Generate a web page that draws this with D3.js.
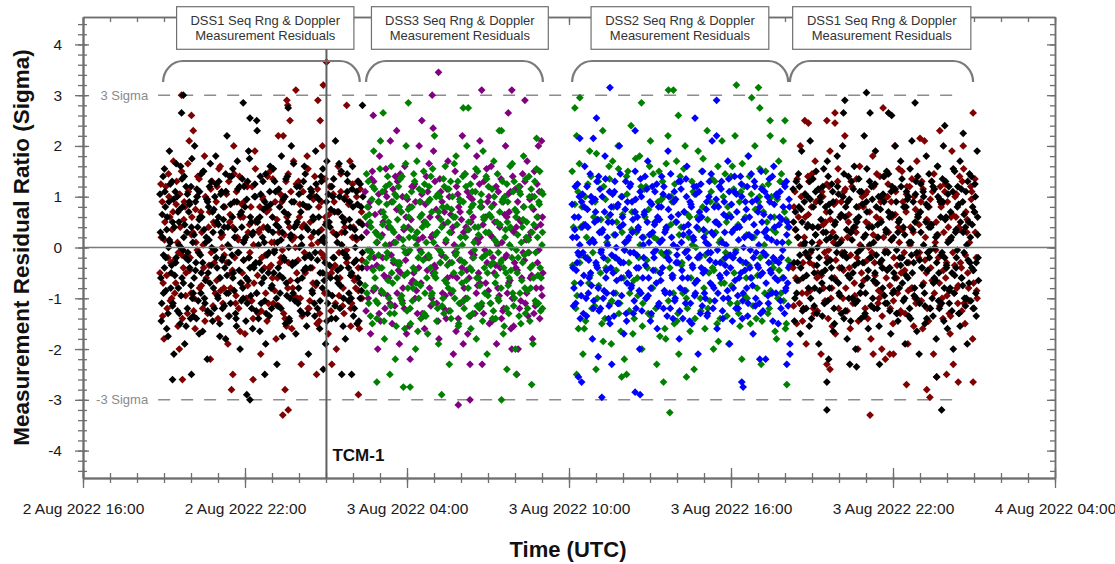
<!DOCTYPE html>
<html>
<head>
<meta charset="utf-8">
<script src="https://cdn.jsdelivr.net/npm/d3@7"></script>
<style>
body{margin:0;background:#fff;}
svg{display:block;font-family:"Liberation Sans",Arial,sans-serif;}
</style>
</head>
<body>
<svg id="chart" width="1115" height="564"></svg>
<script>
// each point: [minutes after 2 Aug 2022 16:00 UTC, residual ratio in sigma]
const dss1PassARed = [[171,-0.5],[176,0.9],[180,-1.8],[184,1.2],[189,-0.2],[193,0.6],[197,-1.0],[201,1.7],[206,-0.7],[210,0.1],
[214,-2.0],[219,1.5],[223,-0.4],[227,0.8],[232,-1.3],[236,2.1],[240,-0.9],[244,0.3],[249,-1.6],[253,1.0],
[257,-0.1],[262,0.7],[266,-1.2],[270,1.8],[274,-0.6],[279,0.4],[283,-2.2],[287,1.3],[292,-0.3],[296,0.9],
[300,-1.4],[305,1.6],[309,0.0],[313,-0.8],[317,1.1],[322,-1.9],[326,0.5],[330,-0.5],[335,2.0],[339,-1.1],
[343,0.2],[348,1.4],[352,-0.7],[356,0.6],[360,-1.7],[365,1.2],[369,-0.2],[373,0.8],[378,-1.4],[382,1.9],
[386,-0.9],[391,0.3],[395,-2.1],[399,1.0],[403,-0.4],[408,0.7],[412,-1.1],[416,1.5],[421,-0.6],[425,0.1],
[429,-1.8],[434,2.2],[438,-0.3],[442,0.9],[446,-1.3],[451,1.3],[455,-0.8],[459,0.4],[464,-1.6],[468,1.7],
[472,0.0],[477,-1.0],[481,0.6],[485,-2.3],[489,1.1],[494,-0.5],[498,1.8],[502,-1.2],[507,0.2],[511,-0.7],
[515,1.4],[520,-1.5],[524,0.8],[528,-0.1],[532,2.0],[537,-0.9],[541,0.5],[545,-1.7],[550,1.2],[554,-0.4],
[558,0.9],[563,-2.0],[567,1.6],[571,-0.6],[575,0.3],[580,-1.3],[584,1.0],[588,-0.2],[593,1.7],[597,-1.1],
[601,0.4],[606,-0.8],[610,1.3],[614,-1.6],[619,0.7],
[174,0.2],[178,-0.7],[182,0.5],[187,-1.2],[191,1.0],[195,-0.3],[200,0.7],[204,-0.9],[208,1.3],[212,-0.1],
[216,0.4],[221,-1.4],[225,0.9],[229,-0.5],[234,1.1],[238,-0.2],[242,0.6],[247,-1.0],[251,0.1],[255,1.4],
[259,-0.8],[264,0.3],[268,-0.4],[272,1.0],[277,-1.3],[281,0.7],[285,-0.1],[290,0.5],[294,-0.9],[298,1.2],
[303,-0.6],[307,0.2],[311,-1.1],[315,0.8],[320,-0.3],[324,1.3],[328,-0.8],[333,0.4],[337,-0.2],[341,1.1],
[346,-1.2],[350,0.6],[354,-0.5],[358,0.9],[363,-1.0],[367,0.3],[371,-0.1],[376,1.2],[380,-0.7],[384,0.5],
[389,-1.3],[393,0.8],[397,-0.2],[401,0.4],[406,-0.9],[410,1.4],[414,-0.4],[419,0.1],[423,-1.1],[427,0.9],
[432,-0.6],[436,0.3],[440,-0.2],[444,1.0],[449,-1.4],[453,0.6],[457,-0.3],[462,1.1],[466,-0.8],[470,0.2],
[475,-0.5],[479,1.3],[483,-1.0],[487,0.4],[492,-0.1],[496,0.8],[500,-1.2],[505,0.5],[509,-0.4],[513,1.0],
[518,-0.7],[522,0.1],[526,-1.3],[530,0.9],[535,-0.2],[539,0.6],[543,-0.9],[548,1.2],[552,-0.5],[556,0.3],
[561,-1.1],[565,0.7],[569,-0.1],[573,1.1],[578,-0.8],[582,0.4],[586,-0.3],[591,0.9],[595,-1.2],[599,0.2],
[604,-0.6],[608,1.0],[612,-0.4],[616,0.5],[620,-1.0],
[173,1.25],[177,-1.35],[181,0.15],[186,-0.55],[190,1.45],[194,-1.05],[198,0.35],[203,-0.25],[207,0.85],[211,-1.55],
[215,1.05],[220,-0.15],[224,0.55],[228,-0.95],[233,1.65],[237,-0.45],[241,0.25],[246,-1.25],[250,0.75],[254,-0.05],
[258,1.35],[263,-0.75],[267,0.05],[271,-1.45],[276,0.95],[280,-0.35],[284,1.15],[289,-1.15],[293,0.45],[297,-0.65],
[302,1.55],[306,-0.85],[310,0.25],[314,-0.15],[319,1.05],[323,-1.35],[327,0.65],[332,-0.45],[336,1.45],[340,-0.95],
[345,0.15],[349,-1.65],[353,0.85],[357,-0.25],[362,1.25],[366,-0.75],[370,0.45],[375,-1.05],[379,0.05],[383,1.55],
[388,-0.55],[392,0.35],[396,-1.25],[400,0.95],[405,-0.15],[409,-1.45],[413,0.75],[418,-0.35],[422,1.35],[426,-0.85],
[431,0.55],[435,-1.15],[439,1.05],[443,-0.05],[448,0.25],[452,-1.55],[456,1.45],[461,-0.65],[465,0.15],[469,-0.95],
[474,1.25],[478,-0.25],[482,0.85],[487,-1.35],[491,0.45],[495,-0.45],[500,1.55],[504,-1.05],[508,0.05],[512,0.95],
[517,-0.75],[521,1.15],[525,-1.45],[530,0.35],[534,-0.15],[538,1.35],[543,-0.55],[547,0.65],[551,-1.25],[556,1.05],
[560,-0.35],[564,0.25],[569,-0.95],[573,1.45],[577,-1.15],[582,0.55],[586,-0.05],[590,0.85],[595,-1.55],[599,1.25],
[603,-0.65],[608,0.15],[612,-0.85],[616,1.15],[620,-0.25],
[219,3.0],[241,2.6],[245,2.3],[445,2.2],[453,2.9],[455,2.8],[460,2.5],[473,3.1],[522,2.9],[527,2.5],[534,3.2],[541,3.65],[586,2.8],
[221,-2.6],[330,-2.8],[333,-2.5],[378,-2.6],[444,-3.3],[449,-2.8],[456,-3.2],[519,-2.5],[553,-2.3],[612,-2.9]];

const dss1PassABlack = [[172,0.3],[175,-1.1],[178,1.4],[181,-0.4],[183,0.8],[186,-1.6],[190,0.0],[192,1.9],[195,-0.8],[199,0.5],
[202,-2.1],[205,1.1],[207,-0.2],[211,0.7],[214,-1.3],[217,1.6],[220,-0.6],[224,0.2],[226,-1.9],[229,1.2],
[233,-0.1],[236,0.9],[239,-1.4],[241,0.4],[245,-0.9],[248,2.0],[251,-0.3],[254,1.0],[258,-1.7],[260,0.6],
[263,-0.5],[267,1.5],[270,-1.0],[273,0.1],[276,-2.2],[279,0.8],[282,-0.7],[285,1.3],[289,0.3],[292,-1.2],
[295,1.8],[298,-0.4],[301,0.6],[304,-1.5],[308,1.1],[311,-0.2],[314,0.4],[317,-1.8],[320,2.2],[323,-0.9],
[327,0.0],[330,1.4],[333,-0.6],[336,0.9],[339,-1.3],[343,1.7],[346,-0.1],[349,-2.0],[352,0.7],[355,-0.8],
[358,1.2],[362,0.2],[365,-1.1],[368,1.9],[371,-0.4],[374,0.5],[377,-1.6],[381,1.0],[384,-0.3],[387,2.3],
[390,-1.4],[393,0.6],[397,-0.7],[400,1.3],[403,0.1],[406,-1.9],[409,0.8],[412,-0.5],[416,1.6],[419,-1.2],
[422,0.3],[425,-0.1],[428,1.1],[431,-2.3],[435,0.4],[438,-0.9],[441,1.8],[444,-0.6],[447,0.7],[450,-1.5],
[454,1.4],[457,0.0],[460,-1.0],[463,2.0],[466,-0.3],[469,0.9],[473,-1.7],[476,0.5],[479,-0.8],[482,1.2],
[485,0.2],[488,-1.3],[492,1.6],[495,-0.4],[498,0.8],[501,-2.1],[504,1.0],[507,-0.2],[511,0.6],[514,-1.1],
[517,1.9],[520,-0.7],[523,0.3],[526,-1.6],[530,1.3],[533,-0.5],[536,0.1],[539,-1.9],[542,1.7],[545,-0.9],
[549,0.4],[552,-1.4],[555,1.0],[558,-0.2],[561,2.1],[564,-0.6],[568,0.7],[571,-1.2],[574,1.5],[577,-0.1],
[580,0.5],[583,-1.8],[587,1.1],[590,-0.4],[593,0.9],[596,-1.0],[599,1.6],[602,-0.3],[606,0.2],[609,-1.5],
[612,1.3],[615,-0.7],[618,0.8],[621,-0.1],
[173,-0.6],[177,0.2],[179,-0.9],[182,1.1],[184,-0.2],[187,0.6],[189,-1.3],[191,0.9],[194,0.1],[196,-0.5],
[198,1.3],[200,-1.1],[203,0.4],[206,-0.3],[209,1.0],[212,-0.8],[213,0.5],[216,-1.5],[218,0.0],[221,0.8],
[223,-0.7],[225,1.4],[228,-0.2],[231,0.3],[232,-1.2],[235,0.7],[237,-0.4],[240,1.2],[243,-1.0],[244,0.1],
[247,-0.6],[250,0.9],[252,-1.4],[255,0.4],[257,-0.1],[259,1.1],[262,-0.9],[264,0.6],[266,-0.3],[268,1.5],
[271,-1.1],[274,0.2],[277,0.9],[278,-0.5],[281,1.2],[284,-1.3],[286,0.0],[288,0.7],[290,-0.8],[293,1.0],
[296,-0.2],[297,0.5],[300,-1.0],[302,1.3],[305,-0.6],[307,0.3],[310,-1.2],[312,0.8],[315,-0.4],[318,1.1],
[319,-0.9],[322,0.4],[324,-0.3],[326,1.4],[328,-1.1],[332,0.6],[334,-0.5],[337,0.2],[340,-1.4],[342,0.9],
[344,-0.1],[348,1.2],[350,-0.7],[353,0.4],[356,-1.0],[357,0.1],[360,0.8],[363,-0.6],[366,1.3],[369,-0.2],
[372,0.6],[375,-1.2],[378,0.3],[380,-0.4],[383,1.0],[386,-0.9],[388,0.5],[392,-0.3],[394,1.4],[396,-1.1],
[399,0.2],[402,-0.6],[404,0.9],[407,-1.3],[410,0.4],[413,-0.1],[415,1.1],[418,-0.8],[421,0.6],[424,-0.5],
[426,1.3],[430,-1.0],[432,0.1],[434,-0.4],[437,0.8],[440,-1.2],[443,0.3],[446,-0.2],[449,1.0],[452,-0.7],
[455,0.5],[458,-1.4],[461,0.2],[464,0.9],[467,-0.9],[470,0.4],[472,-0.3],[475,1.2],[478,-1.1],[481,0.0],
[484,0.7],[487,-0.6],[490,1.3],[493,-0.2],[496,0.4],[499,-1.3],[502,0.8],[505,-0.4],[508,1.1],[510,-0.9],
[513,0.3],[516,-0.1],[519,1.0],[521,-1.2],[524,0.6],[527,-0.5],[529,1.4],[532,-0.8],[535,0.2],[538,-0.3],
[541,0.9],[544,-1.1],[547,0.5],[550,-0.6],[553,1.2],[556,-0.2],[559,0.7],[562,-1.4],[565,0.1],[567,-0.7],
[570,1.0],[573,-0.4],[576,0.6],[579,-1.0],[582,0.3],[585,-0.2],[588,1.3],[591,-0.9],[594,0.4],[597,-0.5],
[600,0.8],[603,-1.2],[605,0.0],[608,1.1],[611,-0.6],[613,0.5],[616,-1.0],[619,0.2],[620,-0.4],[622,1.0],
[171,1.05],[174,-1.45],[176,0.65],[179,-0.15],[181,1.55],[184,-0.85],[186,0.35],[189,-1.75],[192,0.15],[194,1.25],
[197,-0.35],[199,-1.15],[201,0.95],[204,-0.55],[207,1.65],[210,-1.25],[213,0.05],[215,0.75],[218,-0.95],[220,1.35],
[222,-0.05],[226,0.45],[229,-1.55],[232,1.05],[234,-0.25],[237,0.85],[240,-0.75],[242,1.75],[245,-1.35],[247,0.25],
[250,-0.45],[253,1.15],[256,-1.05],[258,0.55],[261,-0.15],[263,1.45],[266,-1.65],[269,0.35],[272,-0.65],[275,0.95],
[277,-1.25],[280,0.15],[283,1.65],[285,-0.35],[288,-1.45],[291,0.75],[293,-0.05],[296,1.25],[299,-0.95],[301,0.45],
[304,-1.75],[306,1.05],[309,-0.25],[312,0.55],[314,-1.15],[317,1.45],[320,-0.55],[322,0.05],[325,-1.35],[328,0.85],
[331,-0.15],[333,1.55],[336,-0.85],[338,0.35],[341,-1.55],[344,1.15],[347,-0.45],[349,0.65],[352,-1.05],[354,1.35],
[357,-0.25],[359,0.15],[362,-1.45],[364,0.95],[367,-0.65],[370,1.75],[373,-0.95],[376,0.25],[379,-0.35],[382,1.25],
[385,-1.25],[387,0.55],[390,0.05],[393,-1.65],[395,1.05],[398,-0.45],[401,0.75],[404,-1.05],[406,1.45],[409,-0.15],
[412,0.35],[414,-1.35],[417,0.85],[420,-0.75],[423,1.55],[426,-0.05],[429,0.45],[432,-1.15],[435,1.15],[437,-0.55],
[440,0.15],[443,-1.75],[445,0.95],[448,-0.25],[451,1.35],[453,-0.95],[456,0.65],[459,-1.45],[462,0.25],[465,-0.35],
[468,1.65],[471,-1.05],[474,0.45],[477,-0.65],[480,1.05],[483,-1.25],[486,0.05],[489,0.85],[491,-0.45],[494,1.45],
[497,-1.55],[500,0.35],[503,-0.15],[506,1.15],[509,-0.85],[512,0.55],[515,-1.35],[518,1.25],[521,-0.25],[524,0.95],
[527,-1.05],[530,0.15],[533,1.55],[536,-0.65],[539,0.45],[542,-1.45],[545,1.05],[548,-0.35],[551,0.75],[554,-0.95],
[557,1.35],[560,-1.15],[563,0.25],[566,-0.45],[569,1.65],[572,-0.75],[575,0.05],[578,-1.55],[581,0.95],[584,-0.15],
[587,1.45],[590,-1.05],[592,0.55],[595,-0.55],[598,1.15],[601,-1.35],[604,0.35],[607,-0.25],[610,0.85],[613,-1.45],
[616,1.25],[619,-0.85],[621,0.45],
[219,2.65],[223,3.0],[356,2.85],[371,2.55],[386,2.5],[456,2.75],[621,2.8],
[199,-2.6],[241,-2.5],[364,-2.9],[371,-3.0],[404,-2.5],[534,-2.4],[575,-2.5],[597,-2.5]];

const dss3Purple = [[627,1.1],[631,-0.4],[635,0.8],[639,-1.7],[643,1.5],[647,-0.2],[651,0.3],[655,-2.0],[659,1.8],[663,-0.9],
[667,0.5],[671,-1.2],[675,1.0],[679,-0.6],[683,2.1],[687,-1.5],[691,0.1],[695,-0.3],[699,1.3],[703,-1.9],
[707,0.7],[711,-0.8],[715,1.6],[719,-0.1],[723,0.4],[727,-2.2],[731,1.2],[735,-0.5],[739,0.9],[743,-1.3],
[747,2.0],[751,-0.7],[755,0.2],[759,-1.6],[763,1.4],[767,-0.2],[771,0.6],[775,-1.0],[779,1.9],[783,-0.4],
[787,0.0],[791,-1.8],[795,1.1],[799,-0.9],[803,0.7],[807,-1.4],[811,1.7],[815,-0.3],[819,0.3],[823,-2.1],
[827,1.5],[831,-0.6],[835,0.8],[839,-1.1],[843,2.2],[847,-0.8],[851,0.4],[855,-1.7],[859,1.0],[863,-0.1],
[867,0.6],[871,-1.3],[875,1.8],[879,-0.5],[883,0.2],[887,-2.3],[891,1.3],[895,-0.7],[899,0.9],[903,-1.5],
[907,1.6],[911,-0.2],[915,0.5],[919,-1.9],[923,1.1],[927,-0.4],[931,0.1],[935,-1.2],[939,2.0],[943,-0.9],
[947,0.7],[951,-1.6],[955,1.4],[959,-0.3],[963,0.4],[967,-2.0],[971,1.2],[975,-0.6],[979,0.8],[983,-1.1],
[987,1.7],[991,-0.1],[995,0.3],[999,-1.8],[1003,1.5],[1007,-0.8],[1011,0.6],[1015,-1.4],[1019,2.1],[1022,-0.5],
[630,0.3],[634,-1.0],[638,0.9],[642,-0.4],[646,1.3],[650,-0.8],[654,0.1],[658,-1.3],[662,0.7],[666,-0.2],
[670,1.1],[674,-0.6],[678,0.4],[682,-1.1],[686,0.9],[690,-0.3],[694,1.4],[698,-0.9],[702,0.2],[706,-0.5],
[710,1.0],[714,-1.2],[718,0.6],[722,-0.1],[726,0.8],[730,-0.7],[734,1.2],[738,-1.0],[742,0.3],[746,-0.4],
[750,0.9],[754,-1.3],[758,0.5],[762,-0.2],[766,1.1],[770,-0.8],[774,0.2],[778,-0.5],[782,1.3],[786,-1.1],
[790,0.6],[794,-0.3],[798,0.9],[802,-1.2],[806,0.1],[810,-0.6],[814,1.0],[818,-0.9],[822,0.4],[826,-0.1],
[830,1.2],[834,-1.4],[838,0.7],[842,-0.4],[846,0.3],[850,-1.0],[854,1.1],[858,-0.6],[862,0.5],[866,-0.2],
[870,1.4],[874,-0.9],[878,0.1],[882,-0.7],[886,0.8],[890,-1.3],[894,0.6],[898,-0.3],[902,1.0],[906,-1.1],
[910,0.2],[914,-0.5],[918,1.2],[922,-0.8],[926,0.4],[930,-1.4],[934,0.9],[938,-0.2],[942,0.6],[946,-0.7],
[950,1.1],[954,-1.0],[958,0.3],[962,-0.4],[966,0.9],[970,-1.2],[974,0.5],[978,-0.1],[982,1.3],[986,-0.9],
[990,0.2],[994,-0.6],[998,1.0],[1002,-1.3],[1006,0.4],[1010,-0.3],[1014,1.1],[1018,-0.8],[1021,0.6],
[629,-1.25],[633,0.45],[637,-0.05],[641,1.35],[645,-0.85],[649,0.65],[653,-0.35],[657,1.05],[661,-1.45],[665,0.25],
[669,-0.55],[673,1.55],[677,-0.95],[681,0.05],[685,-0.15],[689,1.15],[693,-1.15],[697,0.75],[701,-0.45],[705,1.45],
[709,-1.05],[713,0.35],[717,-0.25],[721,0.95],[725,-1.55],[729,0.55],[733,-0.65],[737,1.25],[741,-0.85],[745,0.15],
[749,-0.05],[753,1.05],[757,-1.35],[761,0.85],[765,-0.45],[769,1.65],[773,-1.15],[777,0.25],[781,-0.35],[785,0.75],
[789,-1.45],[793,1.35],[797,-0.15],[801,0.45],[805,-0.95],[809,1.15],[813,-1.25],[817,0.65],[821,-0.55],[825,0.05],
[829,-1.65],[833,1.05],[837,-0.25],[841,0.55],[845,-1.05],[849,1.45],[853,-0.45],[857,0.35],[861,-1.35],[865,0.95],
[869,-0.15],[873,0.15],[877,-0.75],[881,1.25],[885,-1.15],[889,0.45],[893,-0.05],[897,1.55],[901,-0.85],[905,0.25],
[909,-1.45],[913,0.85],[917,-0.35],[921,0.05],[925,-0.95],[929,1.35],[933,-1.25],[937,0.65],[941,-0.15],[945,1.05],
[949,-0.65],[953,0.35],[957,-1.55],[961,1.15],[965,-0.45],[969,0.55],[973,-1.05],[977,1.45],[981,-0.25],[985,0.15],
[989,-1.35],[993,0.95],[997,-0.55],[1001,0.75],[1005,-1.15],[1009,1.25],[1013,-0.05],[1017,0.45],[1020,-0.95],
[645,2.6],[697,2.3],[753,2.5],[776,3.0],[778,2.35],[790,3.45],[882,2.1],[886,3.1],[945,2.65],[953,3.1],[982,2.9],[1012,2.0],
[719,-1.7],[834,-3.1],[845,-1.9],[860,-3.0],[860,-2.3],[953,-2.0],[964,-2.5]];

const dss3Green = [[628,0.6],[631,-0.9],[634,1.3],[637,-0.2],[640,0.4],[643,-1.5],[646,1.9],[649,-0.6],[652,0.1],[655,-1.1],
[658,0.9],[661,2.1],[664,-0.4],[667,0.7],[670,-1.8],[673,1.2],[676,-0.1],[679,0.5],[682,-1.3],[685,1.6],
[688,-0.7],[691,0.3],[694,-2.2],[697,1.0],[700,-0.3],[703,0.8],[706,-1.0],[709,1.4],[712,0.0],[715,-1.6],
[718,2.0],[721,-0.5],[724,0.6],[727,-1.2],[730,1.1],[733,-0.8],[736,0.2],[739,-2.0],[742,1.7],[745,-0.2],
[748,0.9],[751,-1.4],[754,0.4],[757,1.5],[760,-0.9],[763,0.1],[766,-1.7],[769,1.2],[772,-0.4],[775,0.7],
[778,-1.1],[781,2.2],[784,-0.6],[787,0.3],[790,-1.9],[793,1.0],[796,-0.1],[799,0.8],[802,-1.3],[805,1.6],
[808,-0.7],[811,0.5],[814,-2.3],[817,1.3],[820,-0.3],[823,0.6],[826,-1.0],[829,1.8],[832,0.0],[835,-1.5],
[838,0.9],[841,-0.5],[844,1.4],[847,-1.2],[850,0.2],[853,2.0],[856,-0.8],[859,0.7],[862,-1.6],[865,1.1],
[868,-0.2],[871,0.4],[874,-1.8],[877,1.5],[880,-0.6],[883,0.8],[886,-1.1],[889,1.9],[892,-0.4],[895,0.3],
[898,-2.1],[901,1.2],[904,-0.1],[907,0.6],[910,-1.4],[913,1.7],[916,-0.7],[919,0.1],[922,-1.0],[925,2.3],
[928,-0.3],[931,0.9],[934,-1.7],[937,1.0],[940,-0.5],[943,0.5],[946,-1.3],[949,1.6],[952,0.0],[955,-0.9],
[958,1.3],[961,-2.0],[964,0.7],[967,-0.2],[970,1.1],[973,-1.5],[976,0.4],[979,1.8],[982,-0.8],[985,0.2],
[988,-1.2],[991,1.4],[994,-0.4],[997,0.8],[1000,-1.9],[1003,1.0],[1006,-0.1],[1009,0.6],[1012,-1.1],[1015,1.5],
[1018,-0.6],[1021,0.3],
[629,-0.3],[632,0.8],[635,-1.1],[638,0.5],[641,-0.1],[644,1.2],[647,-0.8],[650,0.3],[653,-1.4],[656,0.9],
[659,-0.4],[662,0.2],[665,1.1],[668,-0.9],[671,0.6],[674,-0.2],[677,1.4],[680,-1.0],[683,0.4],[686,-0.5],
[689,0.9],[692,-1.3],[695,0.1],[698,-0.6],[701,1.2],[704,-0.3],[707,0.7],[710,-1.1],[713,0.4],[716,-0.1],
[719,1.0],[722,-0.8],[725,0.2],[728,-1.5],[731,0.8],[734,-0.4],[737,1.3],[740,-0.7],[743,0.3],[746,-1.0],
[749,0.6],[752,-0.1],[755,1.1],[758,-1.3],[761,0.5],[764,-0.6],[767,0.9],[770,-0.2],[773,1.4],[776,-0.9],
[779,0.1],[782,-0.5],[785,1.0],[788,-1.2],[791,0.7],[794,-0.3],[797,0.4],[800,-1.0],[803,1.2],[806,-0.2],
[809,0.8],[812,-0.8],[815,0.3],[818,-1.4],[821,1.0],[824,-0.5],[827,0.6],[830,-0.1],[833,1.3],[836,-1.1],
[839,0.2],[842,-0.7],[845,0.9],[848,-0.3],[851,1.2],[854,-1.0],[857,0.5],[860,-0.4],[863,0.8],[866,-1.3],
[869,0.1],[872,1.1],[875,-0.6],[878,0.4],[881,-1.2],[884,0.9],[887,-0.2],[890,0.6],[893,-0.9],[896,1.4],
[899,-0.5],[902,0.3],[905,-1.1],[908,0.8],[911,-0.3],[914,1.0],[917,-1.4],[920,0.5],[923,-0.1],[926,0.7],
[929,-0.8],[932,1.3],[935,-0.4],[938,0.2],[941,-1.2],[944,0.9],[947,-0.6],[950,0.4],[953,-0.2],[956,1.1],
[959,-1.0],[962,0.6],[965,-0.5],[968,1.2],[971,-0.9],[974,0.1],[977,-0.3],[980,0.8],[983,-1.3],[986,0.5],
[989,-0.1],[992,1.0],[995,-0.8],[998,0.3],[1001,-0.6],[1004,1.3],[1007,-1.1],[1010,0.2],[1013,0.9],[1016,-0.4],
[1019,1.1],[1021,-1.2],
[627,-0.75],[630,1.45],[633,-0.05],[636,0.65],[639,-1.35],[642,0.95],[645,-0.45],[648,1.15],[651,-1.05],[654,0.25],
[657,-0.15],[660,1.55],[663,-0.85],[666,0.45],[669,-1.45],[672,0.05],[675,0.85],[678,-0.65],[681,1.25],[684,-1.15],
[687,0.35],[690,-0.25],[693,1.05],[696,-1.55],[699,0.55],[702,-0.35],[705,1.35],[708,-0.95],[711,0.15],[714,-0.55],
[717,1.65],[720,-1.25],[723,0.75],[726,-0.05],[729,0.35],[732,-1.05],[735,1.45],[738,-0.45],[741,0.05],[744,-1.65],
[747,1.15],[750,-0.75],[753,0.65],[756,-0.25],[759,1.25],[762,-1.35],[765,0.45],[768,-0.15],[771,0.95],[774,-0.95],
[777,1.55],[780,-0.55],[783,0.25],[786,-1.45],[789,1.05],[792,-0.05],[795,0.55],[798,-1.15],[801,1.35],[804,-0.65],
[807,0.15],[810,-0.35],[813,1.15],[816,-1.25],[819,0.75],[822,-0.85],[825,1.65],[828,-0.15],[831,0.45],[834,-1.55],
[837,0.95],[840,-0.25],[843,0.05],[846,-1.05],[849,1.45],[852,-0.65],[855,0.35],[858,-1.35],[861,1.25],[864,-0.45],
[867,0.85],[870,-0.05],[873,1.55],[876,-1.15],[879,0.25],[882,-0.75],[885,1.05],[888,-1.45],[891,0.55],[894,-0.15],
[897,1.35],[900,-0.95],[903,0.65],[906,-0.35],[909,1.15],[912,-1.25],[915,0.15],[918,-0.55],[921,1.45],[924,-1.05],
[927,0.45],[930,-0.25],[933,0.95],[936,-1.55],[939,0.35],[942,1.25],[945,-0.75],[948,0.05],[951,-0.45],[954,1.65],
[957,-1.15],[960,0.75],[963,-0.05],[966,0.25],[969,-1.35],[972,1.05],[975,-0.65],[978,0.55],[981,-0.15],[984,1.35],
[987,-0.85],[990,0.15],[993,-1.45],[996,1.15],[999,-0.35],[1002,0.45],[1005,-1.05],[1008,1.55],[1011,-0.55],[1014,0.85],
[1017,-1.25],[1020,0.05],[1022,1.05],
[667,2.65],[723,2.85],[845,2.75],[856,2.75],[930,2.3],[1008,2.15],
[653,-2.65],[682,-2.5],[712,-2.75],[727,-2.75],[797,-2.9],[930,-3.0],[942,-2.4],[963,-2.5],[997,-2.7]];

const dss2Green = [[1087,1.5],[1092,-0.7],[1097,2.2],[1101,-1.6],[1106,0.4],[1111,-2.1],[1116,1.0],[1121,-0.2],[1126,1.9],[1131,-1.2],
[1135,0.6],[1140,-2.4],[1145,1.3],[1150,-0.5],[1155,2.3],[1160,-1.4],[1164,0.1],[1169,1.6],[1174,-1.9],[1179,0.8],
[1184,-0.9],[1189,2.0],[1193,-1.1],[1198,0.3],[1203,-2.2],[1208,1.4],[1213,-0.3],[1218,2.4],[1222,-1.7],[1227,0.7],
[1232,-0.6],[1237,1.8],[1242,-2.0],[1246,0.2],[1251,1.2],[1256,-1.3],[1261,2.1],[1266,-0.8],[1271,0.5],[1275,-2.3],
[1280,1.5],[1285,-0.1],[1290,1.0],[1295,-1.8],[1300,2.2],[1304,-0.4],[1309,0.9],[1314,-1.5],[1319,1.7],[1324,-2.1],
[1329,0.4],[1333,-0.9],[1338,2.0],[1343,-1.2],[1348,0.6],[1353,1.3],[1358,-2.4],[1362,0.0],[1367,1.9],[1372,-1.0],
[1377,0.8],[1382,-1.6],[1387,2.3],[1391,-0.5],[1396,1.1],[1401,-2.0],[1406,0.3],[1411,1.6],[1416,-1.4],[1420,2.1],
[1425,-0.7],[1430,0.5],[1435,-1.9],[1440,1.4],[1445,-0.2],[1449,2.2],[1454,-1.1],[1459,0.9],[1464,-2.2],[1469,1.2],
[1474,-0.6],[1478,1.8],[1483,-1.5],[1488,0.2],[1493,2.0],[1498,-0.8],[1503,1.0],[1507,-2.3],[1512,0.7],[1517,1.5],
[1522,-1.3],[1527,2.2],[1532,-0.3],[1536,0.6],[1541,-1.8],[1546,1.7],[1551,-0.9],[1556,2.1],[1561,-1.6],[1566,0.4],
[1090,0.4],[1095,-1.2],[1100,1.1],[1104,-0.3],[1109,0.8],[1114,-1.6],[1119,0.2],[1124,-0.7],[1129,1.4],[1133,-0.1],
[1138,0.9],[1143,-1.0],[1148,0.3],[1153,-1.5],[1157,1.2],[1162,-0.4],[1167,0.6],[1172,-1.1],[1177,1.7],[1182,-0.2],
[1186,0.5],[1191,-1.3],[1196,1.0],[1201,-0.6],[1206,0.1],[1211,1.5],[1215,-0.9],[1220,0.7],[1225,-1.4],[1230,0.3],
[1235,-0.2],[1240,1.2],[1244,-1.1],[1249,0.6],[1254,-0.4],[1259,1.6],[1264,-0.8],[1269,0.2],[1273,-1.2],[1278,0.9],
[1283,-0.5],[1288,1.3],[1293,-1.6],[1298,0.4],[1302,-0.1],[1307,1.0],[1312,-0.9],[1317,0.5],[1322,-1.3],[1327,1.4],
[1331,-0.3],[1336,0.7],[1341,-1.0],[1346,0.2],[1351,-0.6],[1356,1.1],[1360,-1.4],[1365,0.6],[1370,-0.2],[1375,1.5],
[1380,-0.8],[1385,0.3],[1389,-1.2],[1394,0.9],[1399,-0.4],[1404,1.3],[1409,-1.5],[1414,0.1],[1418,-0.7],[1423,1.0],
[1428,-0.1],[1433,0.8],[1438,-1.1],[1443,1.6],[1447,-0.5],[1452,0.4],[1457,-1.3],[1462,1.1],[1467,-0.3],[1472,0.6],
[1476,-1.0],[1481,1.4],[1486,-0.6],[1491,0.2],[1496,-1.4],[1501,0.9],[1505,-0.2],[1510,1.2],[1515,-0.9],[1520,0.5],
[1525,-1.2],[1530,1.0],[1534,-0.4],[1539,0.3],[1544,-1.0],[1549,1.3],[1554,-0.6],[1559,0.7],[1563,-1.5],[1568,0.1],
[1088,-0.35],[1093,0.85],[1098,-0.95],[1103,1.65],[1107,-0.15],[1112,0.45],[1117,-1.45],[1122,1.25],[1127,-0.55],[1132,0.15],
[1137,-1.15],[1141,1.85],[1146,-0.75],[1151,0.55],[1156,-1.85],[1161,0.95],[1166,-0.25],[1170,1.35],[1175,-1.05],[1180,0.25],
[1185,-0.45],[1190,1.55],[1195,-1.65],[1199,0.65],[1204,-0.05],[1209,1.05],[1214,-1.25],[1219,0.35],[1224,-0.65],[1228,1.75],
[1233,-0.95],[1238,0.05],[1243,-1.55],[1248,1.15],[1253,-0.25],[1257,0.75],[1262,-1.35],[1267,1.45],[1272,-0.45],[1277,0.15],
[1282,-1.75],[1286,0.95],[1291,-0.15],[1296,1.65],[1301,-1.05],[1306,0.45],[1311,-0.55],[1315,1.25],[1320,-1.45],[1325,0.25],
[1330,-0.35],[1335,1.55],[1340,-0.85],[1344,0.65],[1349,-1.65],[1354,0.05],[1359,1.05],[1364,-0.65],[1369,0.35],[1373,-1.25],
[1378,1.75],[1383,-0.15],[1388,0.55],[1393,-1.05],[1398,1.35],[1402,-0.45],[1407,0.85],[1412,-1.85],[1417,0.15],[1422,-0.25],
[1427,1.45],[1431,-1.35],[1436,0.65],[1441,-0.75],[1446,1.15],[1451,-0.05],[1456,0.45],[1460,-1.55],[1465,1.65],[1470,-0.95],
[1475,0.25],[1480,-0.35],[1485,1.05],[1489,-1.15],[1494,0.75],[1499,-0.55],[1504,1.55],[1509,-1.45],[1514,0.05],[1518,-0.15],
[1523,1.25],[1528,-0.85],[1533,0.35],[1538,-1.65],[1543,0.95],[1547,-0.45],[1552,1.45],[1557,-1.05],[1562,0.55],[1567,-0.25],
[1093,2.75],[1104,2.95],[1241,2.85],[1301,3.1],[1312,3.1],[1323,2.6],[1452,3.2],[1486,2.95],[1501,3.15],[1504,2.75],[1527,2.5],[1560,2.5],
[1097,-2.5],[1197,-2.55],[1208,-2.5],[1290,-2.65],[1304,-3.25],[1341,-2.55],[1564,-2.7]];

const dss2Blue = [[1088,0.2],[1091,-0.8],[1094,1.2],[1098,-0.3],[1101,0.6],[1105,-1.4],[1108,0.9],[1111,-0.1],[1115,1.6],[1118,-1.0],
[1122,0.4],[1125,-0.6],[1129,1.0],[1132,-1.8],[1136,0.1],[1139,0.7],[1143,-0.4],[1146,1.4],[1150,-1.2],[1153,0.3],
[1157,-0.2],[1160,1.8],[1164,-0.9],[1167,0.5],[1171,-1.5],[1174,0.8],[1178,-0.5],[1181,1.1],[1185,0.0],[1188,-1.1],
[1192,2.0],[1195,-0.3],[1199,0.6],[1202,-1.7],[1206,1.3],[1209,-0.7],[1213,0.2],[1216,-0.1],[1220,0.9],[1223,-1.3],
[1227,1.5],[1230,-0.4],[1234,0.4],[1237,-2.0],[1241,1.0],[1244,-0.6],[1248,0.7],[1251,-1.0],[1255,1.7],[1258,0.1],
[1262,-0.8],[1265,1.2],[1269,-0.2],[1272,0.5],[1276,-1.6],[1279,0.8],[1283,-0.5],[1286,1.4],[1290,-1.2],[1293,0.3],
[1297,-0.1],[1300,1.9],[1304,-0.9],[1307,0.6],[1311,-1.4],[1314,1.1],[1318,-0.3],[1321,0.0],[1325,-1.8],[1328,1.3],
[1332,-0.6],[1335,0.4],[1339,-1.1],[1342,1.6],[1346,-0.2],[1349,0.9],[1353,-1.5],[1356,0.2],[1360,-0.7],[1363,1.2],
[1367,-2.1],[1370,0.7],[1374,-0.4],[1377,1.5],[1381,-0.9],[1384,0.1],[1388,-1.3],[1391,1.0],[1395,-0.1],[1398,2.1],
[1402,-0.8],[1405,0.5],[1409,-1.6],[1412,0.8],[1416,-0.3],[1419,1.3],[1423,-1.0],[1426,0.3],[1430,-0.5],[1433,1.7],
[1437,-1.9],[1440,0.6],[1444,-0.2],[1447,1.1],[1451,-1.2],[1454,0.4],[1458,-0.6],[1461,1.4],[1465,-1.4],[1468,0.0],
[1472,0.9],[1475,-0.8],[1479,1.8],[1482,-0.4],[1486,0.2],[1489,-1.7],[1493,1.2],[1496,-0.1],[1500,0.7],[1503,-1.1],
[1507,1.5],[1510,-0.5],[1514,0.3],[1517,-2.2],[1521,1.0],[1524,-0.3],[1528,0.6],[1531,-0.9],[1535,1.6],[1538,-0.6],
[1542,0.1],[1545,-1.5],[1549,1.1],[1552,-0.2],[1556,0.8],[1559,-1.3],[1563,1.3],[1566,-0.7],[1569,0.4],[1571,-1.9],
[1089,-0.4],[1092,0.6],[1095,-1.1],[1097,0.2],[1100,-0.1],[1103,1.0],[1106,-0.7],[1109,0.4],[1112,-1.3],[1114,0.8],
[1117,-0.2],[1120,1.2],[1123,-0.9],[1126,0.1],[1128,-0.5],[1131,0.9],[1134,-1.2],[1137,0.5],[1140,-0.3],[1142,1.3],
[1145,-0.8],[1148,0.3],[1151,-0.1],[1154,1.0],[1156,-1.0],[1159,0.7],[1162,-0.6],[1165,0.2],[1168,-1.4],[1170,1.1],
[1173,-0.4],[1176,0.5],[1179,-0.9],[1182,1.3],[1184,-0.2],[1187,0.8],[1190,-1.1],[1193,0.4],[1196,-0.6],[1198,1.0],
[1201,-0.3],[1204,0.1],[1207,-1.3],[1210,0.9],[1212,-0.5],[1215,1.2],[1218,-0.8],[1221,0.3],[1224,-0.1],[1226,0.7],
[1229,-1.2],[1232,0.6],[1235,-0.4],[1238,1.1],[1240,-0.9],[1243,0.2],[1246,-0.2],[1249,1.4],[1252,-1.0],[1254,0.5],
[1257,-0.6],[1260,0.9],[1263,-1.3],[1266,0.3],[1268,-0.1],[1271,1.1],[1274,-0.7],[1277,0.6],[1280,-1.1],[1282,0.1],
[1285,0.8],[1288,-0.4],[1291,1.2],[1294,-0.9],[1296,0.4],[1299,-0.2],[1302,1.0],[1305,-1.2],[1308,0.2],[1310,-0.6],
[1313,0.9],[1316,-1.0],[1319,0.5],[1322,-0.3],[1324,1.3],[1327,-0.8],[1330,0.1],[1333,-1.4],[1336,0.7],[1338,-0.1],
[1341,1.0],[1344,-0.6],[1347,0.3],[1350,-1.1],[1352,0.8],[1355,-0.4],[1358,1.2],[1361,-0.9],[1364,0.4],[1366,-0.2],
[1369,1.1],[1372,-1.3],[1375,0.6],[1378,-0.5],[1380,0.2],[1383,-1.0],[1386,0.9],[1389,-0.1],[1392,1.3],[1394,-0.7],
[1397,0.3],[1400,-1.2],[1403,0.8],[1406,-0.3],[1408,0.5],[1411,-0.9],[1414,1.2],[1417,-0.6],[1420,0.1],[1422,-1.4],
[1425,0.9],[1428,-0.2],[1431,0.6],[1434,-1.0],[1436,1.1],[1439,-0.4],[1442,0.3],[1445,-0.8],[1448,1.4],[1450,-0.1],
[1453,0.7],[1456,-1.2],[1459,0.4],[1462,-0.5],[1464,1.0],[1467,-0.9],[1470,0.2],[1473,-0.3],[1476,1.2],[1478,-1.1],
[1481,0.6],[1484,-0.6],[1487,0.9],[1490,-0.2],[1492,1.3],[1495,-1.0],[1498,0.3],[1501,-0.4],[1504,0.8],[1506,-1.3],
[1509,0.5],[1512,-0.1],[1515,1.1],[1518,-0.7],[1520,0.2],[1523,-1.1],[1526,0.9],[1529,-0.5],[1532,1.4],[1534,-0.2],
[1537,0.4],[1540,-0.9],[1543,1.0],[1546,-0.3],[1548,0.6],[1551,-1.2],[1554,0.1],[1557,-0.6],[1560,1.2],[1562,-0.8],
[1565,0.5],[1568,-0.4],[1570,0.8],
[1087,0.85],[1090,-1.15],[1093,0.35],[1096,-0.45],[1099,1.25],[1102,-0.15],[1104,0.05],[1107,-0.95],[1110,1.05],[1113,-0.55],
[1116,0.45],[1119,-1.35],[1121,0.75],[1124,-0.25],[1127,1.45],[1130,-0.75],[1133,0.15],[1135,-1.05],[1138,0.95],[1141,-0.35],
[1144,0.55],[1147,-1.25],[1149,1.15],[1152,-0.05],[1155,0.35],[1158,-0.85],[1161,1.35],[1163,-0.45],[1166,0.05],[1169,-1.15],
[1172,0.65],[1175,-0.15],[1177,1.05],[1180,-1.35],[1183,0.25],[1186,-0.65],[1189,0.85],[1191,-0.25],[1194,1.45],[1197,-0.95],
[1200,0.45],[1203,-0.05],[1205,0.75],[1208,-1.45],[1211,0.15],[1214,-0.55],[1217,1.25],[1219,-0.75],[1222,0.55],[1225,-1.05],
[1228,0.95],[1231,-0.15],[1233,0.35],[1236,-0.85],[1239,1.35],[1242,-1.25],[1245,0.05],[1247,0.65],[1250,-0.35],[1253,1.15],
[1256,-0.95],[1259,0.25],[1261,-1.45],[1264,0.85],[1267,-0.45],[1270,0.45],[1273,-0.05],[1275,1.25],[1278,-1.15],[1281,0.55],
[1284,-0.65],[1287,0.15],[1289,1.05],[1292,-0.85],[1295,0.35],[1298,-1.35],[1301,0.75],[1303,-0.25],[1306,1.45],[1309,-0.55],
[1312,0.05],[1315,-1.05],[1317,0.95],[1320,-0.15],[1323,0.65],[1326,-1.25],[1329,1.15],[1331,-0.45],[1334,0.25],[1337,-0.85],
[1340,1.35],[1343,-0.05],[1345,0.45],[1348,-1.45],[1351,0.85],[1354,-0.35],[1357,0.15],[1359,-0.95],[1362,1.05],[1365,-0.65],
[1368,0.55],[1371,-0.15],[1373,1.25],[1376,-1.15],[1379,0.35],[1382,-0.45],[1385,0.75],[1387,-1.35],[1390,0.05],[1393,-0.25],
[1396,1.45],[1399,-0.75],[1401,0.25],[1404,-1.05],[1407,0.95],[1410,-0.05],[1413,0.45],[1415,-0.55],[1418,1.15],[1421,-1.25],
[1424,0.65],[1427,-0.35],[1429,0.05],[1432,-0.85],[1435,1.35],[1438,-0.15],[1441,0.85],[1443,-1.45],[1446,0.35],[1449,-0.65],
[1452,1.05],[1455,-0.95],[1457,0.15],[1460,-0.25],[1463,1.25],[1466,-1.05],[1469,0.55],[1471,-0.45],[1474,0.75],[1477,-1.35],
[1480,0.25],[1483,-0.05],[1485,1.45],[1488,-0.75],[1491,0.45],[1494,-1.15],[1497,0.95],[1499,-0.35],[1502,0.05],[1505,-0.55],
[1508,1.15],[1511,-1.25],[1513,0.65],[1516,-0.15],[1519,0.35],[1522,-0.95],[1525,1.35],[1527,-0.45],[1530,0.15],[1533,-1.45],
[1536,0.85],[1539,-0.25],[1541,1.05],[1544,-0.65],[1547,0.45],[1550,-1.05],[1553,0.55],[1555,-0.05],[1558,1.25],[1561,-0.85],
[1564,0.25],[1567,-1.15],[1569,0.95],[1571,-0.35],
[1104,2.15],[1134,2.15],[1141,2.55],[1171,3.15],[1227,2.3],[1360,2.55],[1408,2.9],[1408,2.2],
[1101,-2.55],[1108,-2.65],[1145,-2.15],[1153,-2.95],[1175,-2.3],[1227,-2.85],[1238,-2.9],[1464,-2.65],[1467,-2.75],[1504,-2.2],[1564,-2.3],[1571,-2.1]];

const dss1PassBRed = [[1578,-0.4],[1582,1.1],[1586,-1.5],[1590,0.6],[1594,2.0],[1598,-0.9],[1603,0.2],[1607,-1.9],[1611,1.4],[1615,-0.3],
[1619,0.8],[1623,-1.2],[1627,1.7],[1631,-0.6],[1635,0.4],[1640,-2.1],[1644,1.0],[1648,-0.1],[1652,0.7],[1656,-1.4],
[1660,1.9],[1664,-0.8],[1668,0.1],[1672,-1.7],[1677,1.3],[1681,-0.4],[1685,0.9],[1689,-1.0],[1693,2.2],[1697,-0.2],
[1701,0.5],[1705,-1.6],[1709,1.2],[1714,-0.7],[1718,0.3],[1722,-2.0],[1726,1.6],[1730,-0.5],[1734,0.8],[1738,-1.2],
[1742,1.1],[1746,0.0],[1751,-1.8],[1755,1.8],[1759,-0.3],[1763,0.6],[1767,-1.1],[1771,1.4],[1775,-0.9],[1779,0.2],
[1783,-2.2],[1788,1.0],[1792,-0.4],[1796,0.9],[1800,-1.5],[1804,2.0],[1808,-0.6],[1812,0.4],[1816,-1.3],[1820,1.5],
[1825,-0.1],[1829,0.7],[1833,-1.9],[1837,1.2],[1841,-0.8],[1845,0.3],[1849,-1.0],[1853,1.7],[1857,-0.2],[1862,0.9],
[1866,-1.6],[1870,2.1],[1874,-0.5],[1878,0.5],[1882,-1.2],[1886,1.3],[1890,-2.1],[1894,0.1],[1899,1.6],[1903,-0.7],
[1907,0.8],[1911,-1.4],[1915,1.1],[1919,-0.3],[1923,0.4],[1927,-1.7],[1931,1.9],[1936,-0.9],[1940,0.6],[1944,-1.1],
[1948,1.4],[1952,-0.4],[1956,2.0],[1960,-1.5],[1964,0.3],[1968,-0.8],[1973,1.2],[1977,-1.8],[1981,0.7],[1985,-0.2],
[1580,0.8],[1584,-0.6],[1588,0.2],[1592,-1.1],[1596,1.0],[1600,-0.3],[1605,0.6],[1609,-0.9],[1613,1.3],[1617,-0.1],
[1621,0.4],[1625,-1.3],[1629,0.9],[1633,-0.5],[1637,0.1],[1642,1.1],[1646,-0.8],[1650,0.5],[1654,-0.2],[1658,1.2],
[1662,-1.0],[1666,0.3],[1670,-0.6],[1674,0.9],[1679,-1.2],[1683,0.6],[1687,-0.1],[1691,1.1],[1695,-0.8],[1699,0.2],
[1703,-0.4],[1707,1.3],[1711,-1.1],[1716,0.4],[1720,-0.2],[1724,0.8],[1728,-0.9],[1732,1.0],[1736,-0.3],[1740,0.5],
[1744,-1.4],[1748,0.7],[1753,-0.1],[1757,1.2],[1761,-0.7],[1765,0.2],[1769,-1.0],[1773,0.9],[1777,-0.4],[1781,1.4],
[1785,-0.6],[1790,0.3],[1794,-1.2],[1798,0.6],[1802,-0.2],[1806,1.1],[1810,-0.9],[1814,0.1],[1818,-0.5],[1822,0.9],
[1827,-1.3],[1831,1.2],[1835,-0.3],[1839,0.4],[1843,-0.8],[1847,1.0],[1851,-1.1],[1855,0.6],[1859,-0.1],[1864,1.3],
[1868,-0.7],[1872,0.2],[1876,-1.2],[1880,0.8],[1884,-0.4],[1888,1.1],[1892,-0.9],[1896,0.5],[1901,-0.2],[1905,1.2],
[1909,-1.0],[1913,0.3],[1917,-0.6],[1921,0.9],[1925,-1.3],[1929,0.6],[1933,-0.1],[1938,1.0],[1942,-0.8],[1946,0.4],
[1950,-0.3],[1954,1.3],[1958,-1.1],[1962,0.7],[1966,-0.5],[1970,0.1],[1975,1.1],[1979,-0.7],[1983,0.3],[1987,-1.0],
[1579,-1.15],[1583,0.35],[1587,1.35],[1591,-0.65],[1595,0.05],[1599,-1.45],[1604,1.05],[1608,-0.15],[1612,0.65],[1616,-0.85],
[1620,1.45],[1624,-0.35],[1628,0.25],[1632,-1.25],[1636,0.95],[1641,-0.55],[1645,0.45],[1649,-1.05],[1653,1.25],[1657,-0.05],
[1661,0.55],[1665,-1.55],[1669,0.85],[1673,-0.25],[1678,1.55],[1682,-0.95],[1686,0.15],[1690,-0.45],[1694,1.15],[1698,-1.25],
[1702,0.65],[1706,-0.15],[1710,0.35],[1715,-0.95],[1719,1.35],[1723,-1.45],[1727,0.05],[1731,0.85],[1735,-0.65],[1739,1.05],
[1743,-0.25],[1747,0.45],[1752,-1.15],[1756,0.25],[1760,-0.55],[1764,1.45],[1768,-0.85],[1772,0.55],[1776,-1.35],[1780,0.95],
[1784,-0.05],[1789,1.25],[1793,-0.75],[1797,0.15],[1801,-1.05],[1805,0.65],[1809,-0.35],[1813,1.55],[1817,-1.25],[1821,0.35],
[1826,-0.45],[1830,1.05],[1834,-0.85],[1838,0.05],[1842,1.35],[1846,-1.55],[1850,0.75],[1854,-0.15],[1858,0.45],[1863,-1.05],
[1867,1.15],[1871,-0.25],[1875,0.55],[1879,-1.45],[1883,0.95],[1887,-0.65],[1891,1.45],[1895,-0.05],[1900,0.25],[1904,-1.15],
[1908,0.85],[1912,-0.45],[1916,1.25],[1920,-0.95],[1924,0.15],[1928,-1.35],[1932,0.65],[1937,-0.35],[1941,1.05],[1945,-0.75],
[1949,0.35],[1953,-1.25],[1957,1.55],[1961,-0.15],[1965,0.55],[1969,-1.05],[1974,0.95],[1978,-0.45],[1982,1.35],[1986,-0.85],
[1604,2.5],[1612,2.45],[1653,2.5],[1671,2.65],[1671,2.45],[1778,2.75],[1860,2.15],[1904,2.3],[1978,2.65],
[1653,-2.3],[1660,-2.4],[1749,-3.3],[1756,-2.1],[1775,-2.0],[1793,-2.1],[1801,-2.1],[1830,-2.7],[1875,-2.8],[1882,-2.95],
[1897,-2.55],[1919,-2.5],[1934,-2.3],[1945,-2.65],[1978,-2.65]];

const dss1PassBBlack = [[1579,0.5],[1582,-1.0],[1585,1.3],[1588,-0.3],[1591,0.8],[1594,-1.7],[1597,1.9],[1600,-0.6],[1604,0.1],[1607,-1.2],
[1610,1.0],[1613,-0.2],[1616,2.1],[1619,-1.4],[1622,0.4],[1626,-0.8],[1629,1.5],[1632,0.0],[1635,-1.9],[1638,0.9],
[1641,-0.5],[1644,1.2],[1648,-1.1],[1651,0.3],[1654,1.7],[1657,-2.2],[1660,0.7],[1663,-0.4],[1666,1.1],[1670,-1.5],
[1673,0.2],[1676,1.8],[1679,-0.7],[1682,0.6],[1685,-1.3],[1688,2.0],[1692,-0.1],[1695,0.8],[1698,-1.8],[1701,1.4],
[1704,-0.6],[1707,0.3],[1710,-1.0],[1714,1.6],[1717,-2.0],[1720,0.5],[1723,-0.3],[1726,1.1],[1729,-1.4],[1732,0.0],
[1736,2.2],[1739,-0.9],[1742,0.7],[1745,-1.6],[1748,1.3],[1751,-0.2],[1754,0.4],[1758,-1.2],[1761,1.9],[1764,-0.7],
[1767,0.2],[1770,-2.3],[1773,1.0],[1776,-0.4],[1780,0.9],[1783,-1.1],[1786,1.5],[1789,-0.1],[1792,0.6],[1795,-1.7],
[1798,1.2],[1802,-0.5],[1805,2.0],[1808,-1.3],[1811,0.3],[1814,-0.8],[1817,1.7],[1820,-0.2],[1824,0.8],[1827,-1.9],
[1830,1.1],[1833,-0.6],[1836,0.1],[1839,-1.4],[1842,2.1],[1846,-0.3],[1849,0.5],[1852,-1.0],[1855,1.4],[1858,-2.1],
[1861,0.7],[1864,-0.4],[1868,1.0],[1871,-1.5],[1874,1.8],[1877,-0.1],[1880,0.4],[1883,-1.2],[1886,1.3],[1890,-0.7],
[1893,0.0],[1896,-1.8],[1899,1.6],[1902,-0.5],[1905,0.9],[1908,-1.1],[1912,2.0],[1915,-0.2],[1918,0.6],[1921,-1.6],
[1924,1.2],[1927,-0.8],[1930,0.2],[1934,-2.0],[1937,1.5],[1940,-0.4],[1943,0.8],[1946,-1.3],[1949,1.7],[1952,-0.6],
[1956,0.3],[1959,-1.0],[1962,1.1],[1965,-1.9],[1968,0.5],[1971,-0.3],[1974,1.4],[1978,-1.2],[1981,0.7],[1984,-0.9],
[1987,1.9],[1989,-0.2],
[1580,-0.3],[1583,0.7],[1586,-0.9],[1589,0.2],[1592,1.2],[1595,-0.4],[1598,0.5],[1601,-1.2],[1603,0.9],[1606,-0.1],
[1609,0.4],[1612,-0.8],[1615,1.3],[1617,-1.0],[1620,0.1],[1623,0.8],[1625,-0.5],[1628,1.1],[1631,-1.3],[1633,0.4],
[1636,-0.2],[1639,1.0],[1642,-0.7],[1645,0.3],[1647,-1.1],[1650,0.8],[1653,-0.3],[1656,1.4],[1659,-0.8],[1661,0.2],
[1664,-0.6],[1667,0.9],[1669,-1.2],[1672,0.5],[1675,-0.1],[1677,1.2],[1680,-0.9],[1683,0.1],[1686,-0.4],[1689,1.0],
[1691,-1.4],[1694,0.6],[1697,-0.2],[1699,0.9],[1702,-1.0],[1705,0.3],[1708,1.3],[1711,-0.5],[1713,0.4],[1716,-1.1],
[1719,0.8],[1721,-0.1],[1724,0.6],[1727,-0.9],[1730,1.1],[1733,-0.3],[1735,0.2],[1738,-1.3],[1741,0.9],[1743,-0.6],
[1746,0.4],[1749,-0.2],[1752,1.2],[1755,-1.0],[1757,0.1],[1760,-0.5],[1763,0.8],[1765,-1.2],[1768,1.0],[1771,-0.3],
[1774,0.5],[1777,-0.8],[1779,1.4],[1782,-0.1],[1785,0.3],[1787,-1.1],[1790,0.7],[1793,-0.4],[1796,1.1],[1799,-0.9],
[1801,0.2],[1804,-0.6],[1807,0.9],[1809,-1.3],[1812,0.5],[1815,-0.2],[1818,1.2],[1821,-0.7],[1823,0.4],[1826,-1.0],
[1829,0.8],[1831,-0.3],[1834,1.0],[1837,-1.2],[1840,0.1],[1843,-0.5],[1845,0.9],[1848,-0.8],[1851,1.3],[1853,-0.1],
[1856,0.6],[1859,-1.1],[1862,0.3],[1865,-0.4],[1867,1.1],[1870,-0.9],[1873,0.5],[1875,-1.4],[1878,0.8],[1881,-0.2],
[1884,0.4],[1887,-1.0],[1889,1.2],[1892,-0.6],[1895,0.2],[1897,-0.3],[1900,1.0],[1903,-1.2],[1906,0.6],[1909,-0.1],
[1911,0.9],[1914,-0.8],[1917,1.3],[1919,-0.4],[1922,0.1],[1925,-1.1],[1928,0.7],[1931,-0.5],[1933,1.1],[1936,-0.9],
[1939,0.3],[1941,-0.2],[1944,1.2],[1947,-1.3],[1950,0.5],[1953,-0.6],[1955,0.9],[1958,-0.1],[1961,0.4],[1963,-1.0],
[1966,1.3],[1969,-0.7],[1972,0.2],[1975,-0.4],[1977,0.8],[1980,-1.2],[1983,1.0],[1985,-0.3],[1988,0.6],
[1578,1.15],[1581,-1.45],[1584,0.35],[1587,-0.65],[1590,1.45],[1593,-0.15],[1596,0.75],[1599,-1.25],[1602,0.05],[1605,1.05],
[1608,-0.55],[1611,0.45],[1614,-1.55],[1616,0.95],[1619,-0.05],[1622,1.35],[1625,-1.15],[1628,0.25],[1631,-0.35],[1634,1.15],
[1637,-0.85],[1640,0.55],[1643,-1.35],[1646,1.55],[1649,-0.45],[1652,0.15],[1655,-1.05],[1658,0.85],[1661,-0.25],[1664,1.25],
[1667,-1.65],[1670,0.45],[1673,-0.65],[1676,0.05],[1679,1.05],[1682,-0.95],[1685,0.65],[1688,-0.15],[1691,1.45],[1694,-1.25],
[1697,0.35],[1700,-0.55],[1703,0.95],[1706,-1.45],[1709,0.15],[1712,1.15],[1715,-0.35],[1718,0.55],[1721,-1.05],[1724,1.35],
[1727,-0.05],[1730,-0.75],[1733,0.85],[1736,-1.35],[1739,0.25],[1742,1.55],[1745,-0.45],[1748,0.05],[1751,-1.15],[1754,0.95],
[1757,-0.65],[1760,1.25],[1763,-0.15],[1766,0.45],[1769,-1.55],[1772,0.75],[1775,-0.25],[1778,1.05],[1781,-0.95],[1784,0.35],
[1787,-0.45],[1790,1.45],[1793,-1.25],[1796,0.15],[1799,0.65],[1802,-0.85],[1805,1.15],[1808,-0.05],[1811,-1.45],[1814,0.55],
[1817,-0.35],[1820,1.35],[1823,-1.05],[1826,0.25],[1829,-0.55],[1832,0.95],[1835,-1.35],[1838,1.55],[1841,-0.15],[1844,0.35],
[1847,-0.95],[1850,1.05],[1853,-1.65],[1856,0.65],[1859,-0.25],[1862,1.25],[1865,-0.75],[1868,0.05],[1871,-1.15],[1874,0.85],
[1877,-0.45],[1880,1.45],[1883,-0.05],[1886,0.45],[1889,-1.35],[1892,1.15],[1895,-0.65],[1898,0.25],[1901,-1.05],[1904,0.95],
[1907,-0.15],[1910,1.35],[1913,-1.45],[1916,0.55],[1919,-0.35],[1922,1.05],[1925,-0.85],[1928,0.15],[1931,-1.25],[1934,1.55],
[1937,-0.55],[1940,0.35],[1943,-0.05],[1946,0.85],[1949,-1.55],[1952,1.15],[1955,-0.75],[1958,0.65],[1961,-1.15],[1964,0.05],
[1967,-0.25],[1970,1.45],[1973,-1.05],[1976,0.45],[1979,-0.45],[1982,1.25],[1985,-1.35],[1988,0.25],[1990,-0.65],
[1690,2.65],[1693,2.9],[1741,3.05],[1749,2.65],[1790,2.65],[1797,2.6],[1849,2.85],[1915,2.4],[1956,2.25],
[1653,-3.2],[1653,-2.65],[1704,-2.3],[1719,-2.35],[1897,-2.55],[1908,-3.2]];

// drawing order and colours, back to front
const seriesOrder = [
  {data: dss1PassARed, color: "#7f0000"},
  {data: dss1PassABlack, color: "#000000"},
  {data: dss3Purple, color: "#800080"},
  {data: dss3Green, color: "#008000"},
  {data: dss2Green, color: "#008000"},
  {data: dss2Blue, color: "#0000ff"},
  {data: dss1PassBRed, color: "#7f0000"},
  {data: dss1PassBBlack, color: "#000000"}
];

const xTickHours = [0, 6, 12, 18, 24, 30, 36];
const yTicks = [-4, -3, -2, -1, 0, 1, 2, 3, 4];
const sigmaLevels = [3, -3];
const sigmaLabels = ["3 Sigma", "-3 Sigma"];
const sigmaSpan = [167, 1944];
const passTitles = ["DSS1 Seq Rng & Doppler", "DSS3 Seq Rng & Doppler", "DSS2 Seq Rng & Doppler", "DSS1 Seq Rng & Doppler"];
const boxSpans = [[208, 602], [641, 1034], [1129, 1524], [1577, 1973]];
const braceSpans = [[178, 615], [629, 1022], [1087, 1567], [1571, 1978]];
const tcmMinute = 541;

const t0 = Date.UTC(2022, 7, 2, 16, 0);
const toDate = m => new Date(t0 + m * 60000);

const plotL = 83, plotR = 1055, plotT = 17, plotB = 478;
const x = d3.scaleUtc().domain([toDate(0), toDate(36 * 60)]).range([plotL, plotR]);
const y = d3.scaleLinear().domain([-4.54, 4.54]).range([plotB, plotT]);
const svg = d3.select("#chart");
const axisColor = "#6f6f6f";

const majorTimes = xTickHours.map(h => toDate(h * 60));
const minorTimes = d3.range(0, 37).map(h => toDate(h * 60));
const yMinor = d3.range(-44, 45, 2).map(v => v / 10);
const fmt = d3.utcFormat("%-d %b %Y %H:%M");

function styleAxis(g) {
  g.select(".domain").attr("stroke", axisColor).attr("stroke-width", 1.5);
  g.selectAll(".tick line").attr("stroke", axisColor).attr("stroke-width", 1.3);
  g.selectAll(".tick text").attr("fill", "#1a1a1a").style("font-size", "15.5px").style("font-family", "'Liberation Sans', Arial, sans-serif");
}

// sigma reference lines
const sig = svg.append("g");
sig.selectAll("line").data(sigmaLevels).join("line")
  .attr("x1", x(toDate(sigmaSpan[0]))).attr("x2", x(toDate(sigmaSpan[1])))
  .attr("y1", d => y(d)).attr("y2", d => y(d))
  .attr("stroke", "#8c8c8c").attr("stroke-width", 1.5).attr("stroke-dasharray", "12,11");
sig.selectAll("text").data(sigmaLevels).join("text")
  .attr("x", x(toDate(sigmaSpan[0])) - 10).attr("y", d => y(d)).attr("dy", "0.35em")
  .attr("text-anchor", "end").attr("fill", "#8a8a8a").style("font-size", "13px")
  .text((d, i) => sigmaLabels[i]);

// residual points
const diamond = d3.symbol(d3.symbolSquare, 30)();
seriesOrder.forEach(s => {
  svg.append("g").selectAll("path").data(s.data).join("path")
    .attr("d", diamond)
    .attr("transform", d => `translate(${x(toDate(d[0]))},${y(d[1])}) rotate(45)`)
    .attr("fill", s.color);
});

// zero line
svg.append("line")
  .attr("x1", plotL).attr("x2", plotR).attr("y1", y(0)).attr("y2", y(0))
  .attr("stroke", "#7a7a7a").attr("stroke-width", 1.6);

// frame and axes
svg.append("g").attr("transform", `translate(0,${plotB})`)
  .call(d3.axisBottom(x).tickValues(minorTimes).tickSize(5).tickSizeOuter(0).tickFormat("")).call(styleAxis);
svg.append("g").attr("transform", `translate(0,${plotB})`)
  .call(d3.axisTop(x).tickValues(minorTimes).tickSize(5).tickSizeOuter(0).tickFormat("")).call(styleAxis);
svg.append("g").attr("transform", `translate(0,${plotB})`)
  .call(d3.axisTop(x).tickValues(majorTimes).tickSize(10).tickSizeOuter(0).tickFormat("")).call(styleAxis);
svg.append("g").attr("transform", `translate(0,${plotB})`)
  .call(d3.axisBottom(x).tickValues(majorTimes).tickSize(10).tickSizeOuter(0).tickPadding(15).tickFormat(fmt)).call(styleAxis);

svg.append("g").attr("transform", `translate(0,${plotT})`)
  .call(d3.axisBottom(x).tickValues(minorTimes).tickSize(5).tickSizeOuter(0).tickFormat("")).call(styleAxis);
svg.append("g").attr("transform", `translate(0,${plotT})`)
  .call(d3.axisBottom(x).tickValues(majorTimes).tickSize(8).tickSizeOuter(0).tickFormat("")).call(styleAxis);

svg.append("g").attr("transform", `translate(${plotL},0)`)
  .call(d3.axisLeft(y).tickValues(yMinor).tickSize(5).tickSizeOuter(0).tickFormat("")).call(styleAxis);
svg.append("g").attr("transform", `translate(${plotL},0)`)
  .call(d3.axisRight(y).tickValues(yMinor).tickSize(4).tickSizeOuter(0).tickFormat("")).call(styleAxis);
svg.append("g").attr("transform", `translate(${plotL},0)`)
  .call(d3.axisRight(y).tickValues(yTicks).tickSize(6).tickSizeOuter(0).tickFormat("")).call(styleAxis);
svg.append("g").attr("transform", `translate(${plotL},0)`)
  .call(d3.axisLeft(y).tickValues(yTicks).tickSize(8).tickSizeOuter(0).tickPadding(13).tickFormat(d => String(d))).call(styleAxis);

svg.append("g").attr("transform", `translate(${plotR},0)`)
  .call(d3.axisLeft(y).tickValues(yMinor).tickSize(5).tickSizeOuter(0).tickFormat("")).call(styleAxis);
svg.append("g").attr("transform", `translate(${plotR},0)`)
  .call(d3.axisLeft(y).tickValues(yTicks).tickSize(8).tickSizeOuter(0).tickFormat("")).call(styleAxis);

// pass annotations: boxes and brackets
const boxTop = 6.7, boxBottom = 49.3;
const ann = svg.append("g");
ann.selectAll("rect").data(boxSpans).join("rect")
  .attr("x", d => x(toDate(d[0]))).attr("y", boxTop)
  .attr("width", d => x(toDate(d[1])) - x(toDate(d[0]))).attr("height", boxBottom - boxTop)
  .attr("fill", "#fff").attr("stroke", "#707070").attr("stroke-width", 1.2);
ann.selectAll("text.l1").data(boxSpans).join("text").attr("class", "l1")
  .attr("x", d => (x(toDate(d[0])) + x(toDate(d[1]))) / 2).attr("y", 25)
  .attr("text-anchor", "middle").attr("fill", "#333").style("font-size", "13px")
  .text((d, i) => passTitles[i]);
ann.selectAll("text.l2").data(boxSpans).join("text").attr("class", "l2")
  .attr("x", d => (x(toDate(d[0])) + x(toDate(d[1]))) / 2).attr("y", 40)
  .attr("text-anchor", "middle").attr("fill", "#333").style("font-size", "13px")
  .text("Measurement Residuals");
ann.selectAll("path").data(braceSpans).join("path")
  .attr("d", d => {
    const x0 = x(toDate(d[0])), x1 = x(toDate(d[1]));
    const yt = 61, yb = 82, r = 20;
    return `M${x0},${yb} A${r},${yb - yt} 0 0 1 ${x0 + r},${yt} L${x1 - r},${yt} A${r},${yb - yt} 0 0 1 ${x1},${yb}`;
  })
  .attr("fill", "none").attr("stroke", "#7a7a7a").attr("stroke-width", 2.2);

// TCM-1 marker
const tx = x(toDate(tcmMinute));
svg.append("line").attr("x1", tx).attr("x2", tx).attr("y1", boxBottom).attr("y2", plotB)
  .attr("stroke", "#5f5f5f").attr("stroke-width", 2);
svg.append("text").attr("x", tx + 6).attr("y", 461)
  .attr("fill", "#111").style("font-size", "17px").style("font-weight", "bold").text("TCM-1");

// axis titles
svg.append("text").attr("transform", `translate(29,${(plotT + plotB) / 2}) rotate(-90)`)
  .attr("text-anchor", "middle").attr("fill", "#111").style("font-size", "22.5px").style("font-weight", "bold")
  .text("Measurement Residual Ratio (Sigma)");
svg.append("text").attr("x", 568).attr("y", 557)
  .attr("text-anchor", "middle").attr("fill", "#111").style("font-size", "22px").style("font-weight", "bold")
  .text("Time (UTC)");
</script>
</body>
</html>
